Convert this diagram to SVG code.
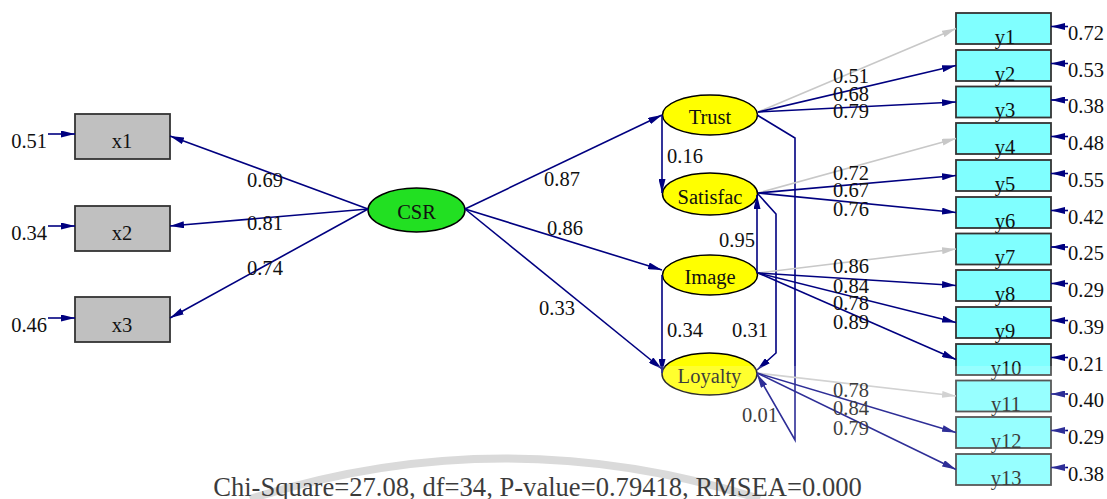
<svg xmlns="http://www.w3.org/2000/svg" width="1107" height="499" viewBox="0 0 1107 499">
  <defs>
    <marker id="arr" viewBox="0 0 14 7" markerWidth="14" markerHeight="7" refX="14" refY="3.5" orient="auto" markerUnits="userSpaceOnUse">
      <path d="M0,0 L14,3.5 L0,7 Z" fill="#000080"/>
    </marker>
    <marker id="arrg" viewBox="0 0 14 7" markerWidth="14" markerHeight="7" refX="14" refY="3.5" orient="auto" markerUnits="userSpaceOnUse">
      <path d="M0,0 L14,3.5 L0,7 Z" fill="#c8c8c8"/>
    </marker>
    <style>
      text { font-family: "Liberation Serif", "Times New Roman", serif; font-size: 20.5px; fill: #111; }
      .c { text-anchor: middle; }
      .e { text-anchor: end; }
      .obsx { fill: #c0c0c0; stroke: #333; stroke-width: 1.8; }
      .obsy { fill: #80ffff; stroke: #333; stroke-width: 1.8; }
      .lat { fill: #ffff00; stroke: #000; stroke-width: 1.5; }
      .exo { fill: #22e022; stroke: #000; stroke-width: 1.5; }
      .p { fill: none; stroke: #000080; stroke-width: 1.6; marker-end: url(#arr); }
      .g { fill: none; stroke: #c8c8c8; stroke-width: 1.6; marker-end: url(#arrg); }
    </style>
  </defs>

  <rect width="1107" height="499" fill="#ffffff"/>

  <!-- faint arc behind the fit statistics -->
  <path d="M250,499 Q505,418 760,499" fill="none" stroke="#d2d2d2" stroke-width="8"/>

  <!-- exogenous indicators -->
  <g id="x1"><rect class="obsx" x="75" y="114" width="95" height="45"/><text class="c" x="122" y="148">x1</text></g>
  <g id="x2"><rect class="obsx" x="75" y="206" width="95" height="45"/><text class="c" x="122" y="240">x2</text></g>
  <g id="x3"><rect class="obsx" x="75" y="297" width="95" height="45"/><text class="c" x="122" y="332">x3</text></g>

  <!-- latent variables -->
  <g id="CSR"><ellipse class="exo" cx="416.5" cy="210" rx="48.5" ry="22"/><text class="c" x="416.5" y="219">CSR</text></g>
  <g id="Trust"><ellipse class="lat" cx="710" cy="115" rx="47.5" ry="20"/><text class="c" x="710" y="124">Trust</text></g>
  <g id="Satisfac"><ellipse class="lat" cx="710" cy="194" rx="47.5" ry="21"/><text class="c" x="710" y="204">Satisfac</text></g>
  <g id="Image"><ellipse class="lat" cx="710" cy="275" rx="47.5" ry="20"/><text class="c" x="710" y="284">Image</text></g>
  <g id="Loyalty"><ellipse class="lat" cx="709.5" cy="374" rx="47.5" ry="21"/><text class="c" x="709.5" y="383">Loyalty</text></g>

  <!-- endogenous indicators -->
  <g id="y1"><rect class="obsy" x="956" y="13" width="95" height="31"/><text class="c" x="1005" y="43.5">y1</text></g>
  <g id="y2"><rect class="obsy" x="956" y="50" width="95" height="31"/><text class="c" x="1005" y="80.5">y2</text></g>
  <g id="y3"><rect class="obsy" x="956" y="86.5" width="95" height="31"/><text class="c" x="1005" y="117">y3</text></g>
  <g id="y4"><rect class="obsy" x="956" y="123" width="95" height="31"/><text class="c" x="1005" y="153.5">y4</text></g>
  <g id="y5"><rect class="obsy" x="956" y="160" width="95" height="31"/><text class="c" x="1005" y="190.5">y5</text></g>
  <g id="y6"><rect class="obsy" x="956" y="197" width="95" height="31"/><text class="c" x="1005" y="227.5">y6</text></g>
  <g id="y7"><rect class="obsy" x="956" y="233.5" width="95" height="31"/><text class="c" x="1005" y="264">y7</text></g>
  <g id="y8"><rect class="obsy" x="956" y="270" width="95" height="31"/><text class="c" x="1005" y="300.5">y8</text></g>
  <g id="y9"><rect class="obsy" x="956" y="307" width="95" height="31"/><text class="c" x="1005" y="337.5">y9</text></g>
  <g id="y10"><rect class="obsy" x="956" y="344" width="95" height="31"/><text class="c" x="1006" y="374.5">y10</text></g>
  <g id="y11"><rect class="obsy" x="956" y="380.5" width="95" height="31"/><text class="c" x="1006" y="411">y11</text></g>
  <g id="y12"><rect class="obsy" x="956" y="417" width="95" height="31"/><text class="c" x="1006" y="447.5">y12</text></g>
  <g id="y13"><rect class="obsy" x="956" y="454" width="95" height="31"/><text class="c" x="1006" y="484.5">y13</text></g>

  <!-- paths, loadings and error terms -->
  <g id="connectors">
    <!-- CSR to x indicators -->
    <path class="p" d="M368,209 L170,136"/>
    <path class="p" d="M368,209 L170,226"/>
    <path class="p" d="M368,209 L170,318"/>
    <!-- x error terms -->
    <path class="p" d="M48,134 L75,134"/>
    <path class="p" d="M48,226 L75,226"/>
    <path class="p" d="M48,318 L75,318"/>
    <!-- structural paths -->
    <path class="p" d="M465,209 L662,115"/>
    <path class="p" d="M465,209 L662,270"/>
    <path class="p" d="M465,209 L662,369"/>
    <path class="p" d="M662,115 L662,193"/>
    <path class="p" d="M662,275 L662,373"/>
    <path class="p" d="M757,273 L757,195"/>
    <path class="p" d="M758,194 L776,214 L776,353 L757,370"/>
    <path class="p" d="M757,115 L795,138 L795,440 L757,374"/>
    <!-- Trust loadings -->
    <path class="g" d="M758,112 L956,28.5"/>
    <path class="p" d="M758,112 L956,65.5"/>
    <path class="p" d="M758,112 L956,102"/>
    <!-- Satisfac loadings -->
    <path class="g" d="M758,193 L956,138.5"/>
    <path class="p" d="M758,193 L956,175.5"/>
    <path class="p" d="M758,193 L956,212.5"/>
    <!-- Image loadings -->
    <path class="g" d="M758,273 L956,249"/>
    <path class="p" d="M758,273 L956,285.5"/>
    <path class="p" d="M758,273 L956,322.5"/>
    <path class="p" d="M758,273 L956,359.5"/>
    <!-- Loyalty loadings -->
    <path class="g" d="M757,373 L956,396"/>
    <path class="p" d="M757,373 L956,432.5"/>
    <path class="p" d="M757,373 L956,469.5"/>
    <!-- y error terms -->
    <path class="p" d="M1068,26.5 L1051,26.5"/>
    <path class="p" d="M1068,63.5 L1051,63.5"/>
    <path class="p" d="M1068,100 L1051,100"/>
    <path class="p" d="M1068,136.5 L1051,136.5"/>
    <path class="p" d="M1068,173.5 L1051,173.5"/>
    <path class="p" d="M1068,210.5 L1051,210.5"/>
    <path class="p" d="M1068,247 L1051,247"/>
    <path class="p" d="M1068,283.5 L1051,283.5"/>
    <path class="p" d="M1068,320.5 L1051,320.5"/>
    <path class="p" d="M1068,357.5 L1051,357.5"/>
    <path class="p" d="M1068,394 L1051,394"/>
    <path class="p" d="M1068,430.5 L1051,430.5"/>
    <path class="p" d="M1068,467.5 L1051,467.5"/>
  </g>

  <!-- coefficient labels -->
  <g id="labels">
    <text class="e" x="47" y="148">0.51</text>
    <text class="e" x="47" y="240">0.34</text>
    <text class="e" x="47" y="332">0.46</text>
    <text class="c" x="265" y="187">0.69</text>
    <text class="c" x="265" y="230">0.81</text>
    <text class="c" x="265" y="275">0.74</text>
    <text class="c" x="562" y="186">0.87</text>
    <text class="c" x="565" y="235">0.86</text>
    <text class="c" x="557" y="315">0.33</text>
    <text class="c" x="685" y="163">0.16</text>
    <text class="c" x="737" y="247">0.95</text>
    <text class="c" x="685" y="337">0.34</text>
    <text class="c" x="750" y="337">0.31</text>
    <text class="c" x="760" y="422">0.01</text>
    <text class="c" x="851" y="82.5">0.51</text>
    <text class="c" x="851" y="101">0.68</text>
    <text class="c" x="851" y="118">0.79</text>
    <text class="c" x="851" y="180">0.72</text>
    <text class="c" x="851" y="197">0.67</text>
    <text class="c" x="851" y="216">0.76</text>
    <text class="c" x="851" y="273">0.86</text>
    <text class="c" x="851" y="293">0.84</text>
    <text class="c" x="851" y="310">0.78</text>
    <text class="c" x="851" y="329">0.89</text>
    <text class="c" x="851" y="397">0.78</text>
    <text class="c" x="851" y="415">0.84</text>
    <text class="c" x="851" y="435">0.79</text>
    <text x="1068" y="39.5">0.72</text>
    <text x="1068" y="76.5">0.53</text>
    <text x="1068" y="113">0.38</text>
    <text x="1068" y="149.5">0.48</text>
    <text x="1068" y="186.5">0.55</text>
    <text x="1068" y="223.5">0.42</text>
    <text x="1068" y="260">0.25</text>
    <text x="1068" y="296.5">0.29</text>
    <text x="1068" y="333.5">0.39</text>
    <text x="1068" y="370.5">0.21</text>
    <text x="1068" y="407">0.40</text>
    <text x="1068" y="443.5">0.29</text>
    <text x="1068" y="480.5">0.38</text>
  </g>

  <text class="c" x="537.5" y="496" style="font-size:26.6px">Chi-Square=27.08, df=34, P-value=0.79418, RMSEA=0.000</text>

  <!-- light wash over the lower band -->
  <rect x="0" y="366" width="1066" height="133" fill="#ffffff" opacity="0.18"/>
</svg>
